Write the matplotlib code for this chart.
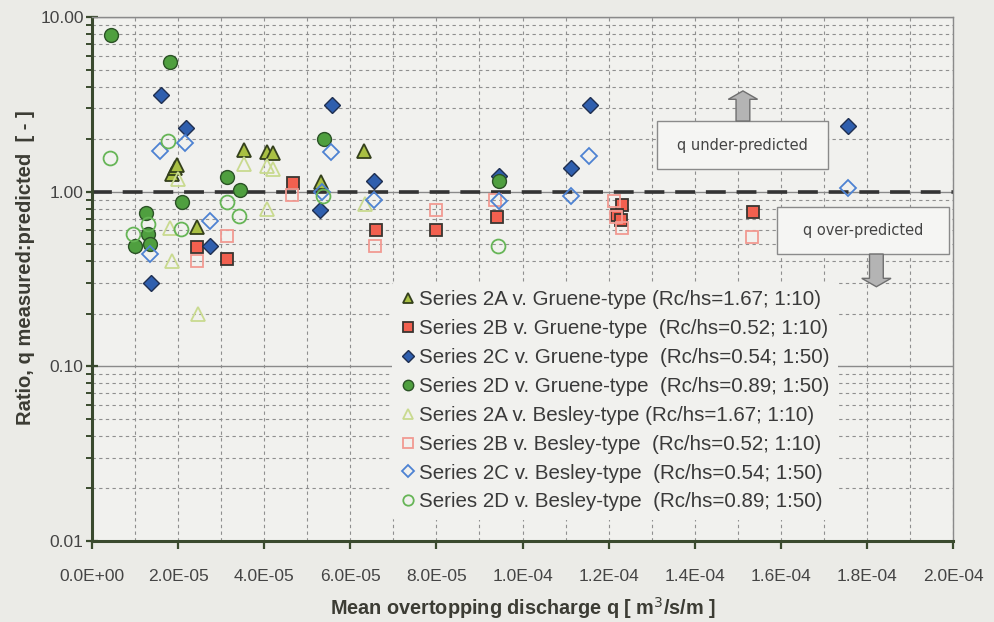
import numpy as np
import matplotlib
matplotlib.use("Agg")
import matplotlib.pyplot as plt
import matplotlib.patches as mpatches
from matplotlib.ticker import LogLocator, FuncFormatter, MultipleLocator, NullFormatter

# data (x in m3/s/m, ratio measured:predicted)
x_2a_g = [1.86e-5, 1.92e-5, 1.97e-5, 2.43e-5, 3.52e-5, 4.07e-5, 4.21e-5, 5.31e-5, 6.32e-5]
y_2a_g = [1.26, 1.37, 1.43, 0.63, 1.73, 1.68, 1.67, 1.14, 1.71]

x_2b_g = [2.43e-5, 3.14e-5, 4.66e-5, 6.59e-5, 8.00e-5, 9.40e-5, 12.30e-5, 12.20e-5, 12.28e-5, 15.35e-5]
y_2b_g = [0.48, 0.41, 1.12, 0.60, 0.60, 0.72, 0.84, 0.74, 0.69, 0.77]

x_2c_g = [1.36e-5, 1.60e-5, 2.18e-5, 2.74e-5, 5.30e-5, 5.57e-5, 6.55e-5, 9.46e-5, 11.12e-5, 11.57e-5, 17.57e-5]
y_2c_g = [0.30, 3.56, 2.32, 0.49, 0.79, 3.14, 1.15, 1.23, 1.37, 3.14, 2.38]

x_2d_g = [0.44e-5, 1.00e-5, 1.25e-5, 1.31e-5, 1.35e-5, 1.80e-5, 2.08e-5, 3.14e-5, 3.44e-5, 5.38e-5, 9.46e-5]
y_2d_g = [7.9, 0.49, 0.76, 0.57, 0.50, 5.5, 0.87, 1.21, 1.02, 2.0, 1.15]

x_2a_b = [1.81e-5, 1.85e-5, 2.00e-5, 2.45e-5, 3.52e-5, 4.06e-5, 4.20e-5, 4.06e-5, 6.34e-5]
y_2a_b = [0.62, 0.40, 1.18, 0.20, 1.45, 1.40, 1.35, 0.80, 0.846]

x_2b_b = [2.43e-5, 3.13e-5, 4.64e-5, 6.57e-5, 7.99e-5, 9.36e-5, 12.12e-5, 12.18e-5, 12.30e-5, 15.32e-5]
y_2b_b = [0.40, 0.56, 0.96, 0.49, 0.79, 0.90, 0.88, 0.72, 0.62, 0.55]

x_2c_b = [1.35e-5, 1.58e-5, 2.16e-5, 2.74e-5, 5.34e-5, 5.55e-5, 6.55e-5, 9.46e-5, 11.12e-5, 11.55e-5, 17.55e-5]
y_2c_b = [0.44, 1.71, 1.91, 0.68, 1.00, 1.69, 0.90, 0.885, 0.95, 1.61, 1.05]

x_2d_b = [0.42e-5, 0.96e-5, 1.31e-5, 1.77e-5, 2.07e-5, 3.13e-5, 3.42e-5, 5.37e-5, 9.44e-5]
y_2d_b = [1.55, 0.57, 0.65, 1.95, 0.61, 0.87, 0.73, 0.945, 0.49]

labels = [
    "Series 2A v. Gruene-type (Rc/hs=1.67; 1:10)",
    "Series 2B v. Gruene-type  (Rc/hs=0.52; 1:10)",
    "Series 2C v. Gruene-type  (Rc/hs=0.54; 1:50)",
    "Series 2D v. Gruene-type  (Rc/hs=0.89; 1:50)",
    "Series 2A v. Besley-type (Rc/hs=1.67; 1:10)",
    "Series 2B v. Besley-type  (Rc/hs=0.52; 1:10)",
    "Series 2C v. Besley-type  (Rc/hs=0.54; 1:50)",
    "Series 2D v. Besley-type  (Rc/hs=0.89; 1:50)",
]

plt.rcParams['font.family'] = ['Liberation Sans', 'DejaVu Sans']

bg = '#f1f1ee'
fig = plt.figure(figsize=(9.95, 6.22), dpi=100, facecolor='#ebebe7')
ax = fig.add_axes([0.0925, 0.1302, 0.8653, 0.8424], facecolor=bg)

# filled (Gruene)
ax.plot(x_2a_g, y_2a_g, ls='none', marker='^', ms=10, mfc='#a9c043', mec='#34401c', mew=1.3, label=labels[0])
ax.plot(x_2b_g, y_2b_g, ls='none', marker='s', ms=9, mfc='#f2604f', mec='#3a3530', mew=1.3, label=labels[1])
ax.plot(x_2c_g, y_2c_g, ls='none', marker='D', ms=8, mfc='#2f5fae', mec='#1f2f50', mew=1.0, label=labels[2])
ax.plot(x_2d_g, y_2d_g, ls='none', marker='o', ms=10, mfc='#4f9f3f', mec='#2b5226', mew=1.0, label=labels[3])
# open (Besley)
ax.plot(x_2a_b, y_2a_b, ls='none', marker='^', ms=10, mfc='none', mec='#c9da8f', mew=1.3, label=labels[4])
ax.plot(x_2b_b, y_2b_b, ls='none', marker='s', ms=9, mfc='none', mec='#f29a92', mew=1.3, label=labels[5])
ax.plot(x_2c_b, y_2c_b, ls='none', marker='D', ms=8, mfc='none', mec='#4d82d2', mew=1.3, label=labels[6])
ax.plot(x_2d_b, y_2d_b, ls='none', marker='o', ms=10, mfc='none', mec='#66b556', mew=1.3, label=labels[7])

ax.set_yscale('log')
ax.set_ylim(0.01, 10)
ax.set_xlim(0, 2.0e-4)

ax.xaxis.set_major_locator(MultipleLocator(2e-5))
ax.xaxis.set_minor_locator(MultipleLocator(1e-5))
ax.xaxis.set_major_formatter(FuncFormatter(lambda v, p: f"{v:.1E}"))
ax.yaxis.set_major_locator(LogLocator(base=10))
ax.yaxis.set_minor_locator(LogLocator(base=10, subs=np.arange(2, 10)))
ax.yaxis.set_major_formatter(FuncFormatter(lambda v, p: f"{v:.2f}"))
ax.yaxis.set_minor_formatter(NullFormatter())

ax.xaxis.grid(True, which='both', ls=(0, (3, 3)), color='#8f8f8f', lw=0.8)
ax.yaxis.grid(True, which='minor', ls=(0, (3, 3)), color='#8f8f8f', lw=0.8)
ax.yaxis.grid(True, which='major', ls='-', color='#8a8a8a', lw=1.0)
ax.set_axisbelow(True)

ax.axhline(1.0, color='#333333', lw=2.6, dashes=(5.5, 3), zorder=1.5)

axis_col = '#3a4a2e'
for s in ['left', 'bottom']:
    ax.spines[s].set_color(axis_col)
    ax.spines[s].set_linewidth(2.2)
for s in ['top', 'right']:
    ax.spines[s].set_color('#8a8a8a')
    ax.spines[s].set_linewidth(1.0)

ax.tick_params(axis='x', which='major', direction='out', length=6, width=1.6, color=axis_col,
               labelsize=12.5, labelcolor='#444444', pad=14)
ax.tick_params(axis='x', which='minor', length=0)
ax.tick_params(axis='y', which='major', direction='inout', length=8, width=1.6, color=axis_col,
               labelsize=12.5, labelcolor='#444444', pad=2)
ax.tick_params(axis='y', which='minor', direction='out', length=4, width=1.4, color=axis_col)

ax.set_xlabel("Mean overtopping discharge q [ m$^3$/s/m ]", fontsize=14.3, fontweight='bold',
              color='#3c3c34', labelpad=8)
ax.set_ylabel("Ratio, q measured:predicted  [ - ]", fontsize=14.5, fontweight='bold',
              color='#3c3c34', labelpad=4)
ax.yaxis.label.set_y(0.521)

leg = ax.legend(loc='upper left', bbox_to_anchor=(0.348, 0.494), frameon=True, facecolor=bg,
                edgecolor='none', framealpha=1, fontsize=14.8, handlelength=0.8, handletextpad=0.15,
                labelspacing=0.48, markerscale=0.75, borderpad=0.4, borderaxespad=0)
for t in leg.get_texts():
    t.set_color('#3a3a3a')

# annotation boxes with block arrows
box_kw = dict(transform=ax.transAxes, facecolor='#f5f5f3', edgecolor='#8a8a8a', lw=1.0, zorder=4)
ax.add_patch(mpatches.Rectangle((0.6566, 0.7094), 0.1984, 0.0926, **box_kw))
ax.add_patch(mpatches.Rectangle((0.796, 0.5477), 0.1997, 0.0903, **box_kw))
ax.text(0.7558, 0.7557, "q under-predicted", transform=ax.transAxes, ha='center', va='center',
        fontsize=10.5, family='DejaVu Sans', color='#444444', zorder=5)
ax.text(0.8958, 0.5928, "q over-predicted", transform=ax.transAxes, ha='center', va='center',
        fontsize=10.5, family='DejaVu Sans', color='#444444', zorder=5)
arr_kw = dict(transform=ax.transAxes, facecolor='#b4b4b4', edgecolor='#6f6f6f', lw=1.0,
              length_includes_head=True, zorder=4)
ax.add_patch(mpatches.FancyArrow(0.756, 0.8015, 0, 0.0575, width=0.016, head_width=0.034,
                                 head_length=0.016, **arr_kw))
ax.add_patch(mpatches.FancyArrow(0.911, 0.5477, 0, -0.0624, width=0.016, head_width=0.034,
                                 head_length=0.016, **arr_kw))

fig.savefig("out.png", dpi=100, facecolor=fig.get_facecolor())
